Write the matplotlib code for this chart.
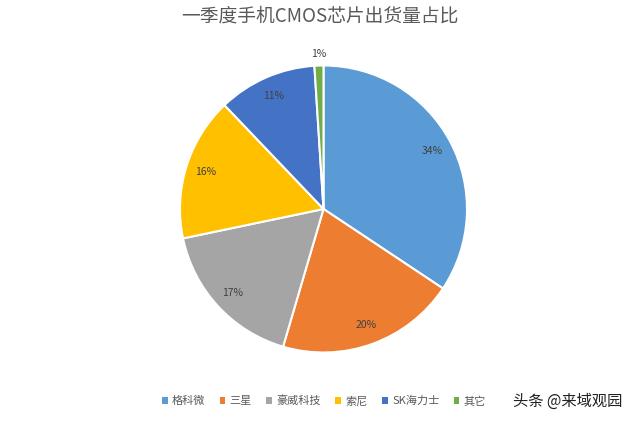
import matplotlib.pyplot as plt
from matplotlib.patches import Patch

plt.rcParams['font.family'] = ['Noto Sans CJK SC', 'DejaVu Sans']

# 数据
labels = ['格科微', '三星', '豪威科技', '索尼', 'SK海力士', '其它']
values = [34, 20, 17, 16, 11, 1]
colors = ['#5B9BD5', '#ED7D31', '#A5A5A5', '#FFC000', '#4472C4', '#70AD47']

fig = plt.figure(figsize=(6.4, 4.21), dpi=100)
ax = fig.add_axes([(323.5 - 143.5) / 640, 1 - (209 + 143.5) / 421, 287 / 640, 287 / 421])

wedges, texts, autotexts = ax.pie(
    values, colors=colors, startangle=90, counterclock=False,
    autopct='%.0f%%', pctdistance=0.86,
    wedgeprops={'edgecolor': 'white', 'linewidth': 1.5},
    textprops={'fontsize': 7.5, 'color': '#404040'})
# 1% 标签放在外面
x1, y1 = autotexts[-1].get_position()
autotexts[-1].set_position((x1 * 1.26, y1 * 1.26))
ax.set_xlim(-1, 1)
ax.set_ylim(-1, 1)
ax.set_aspect('equal')

fig.text(0.5, 1 - 16 / 421, '一季度手机CMOS芯片出货量占比', ha='center', va='center',
         fontsize=13.5, color='#595959')

handles = [Patch(facecolor=c, edgecolor='none') for c in colors]
fig.legend(handles, labels, loc='center', bbox_to_anchor=(324 / 640, 1 - 401 / 421),
           ncol=6, frameon=False, fontsize=8, labelcolor='#595959',
           handlelength=0.5, handleheight=0.5, handletextpad=0.4, columnspacing=1.3)

fig.text(568 / 640, 1 - 401 / 421, '头条 @来域观园', ha='center', va='center',
         fontsize=11, color='#222222')

fig.savefig('out.png', dpi=100, facecolor='white')
